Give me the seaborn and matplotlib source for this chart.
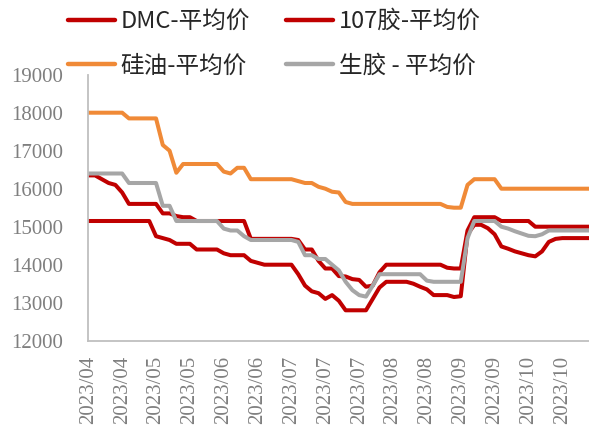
import matplotlib
matplotlib.use("Agg")
import matplotlib.pyplot as plt
import seaborn as sns
import pandas as pd

# ---- data ----
tick_labels = ["2023/04", "2023/04", "2023/05", "2023/05", "2023/06", "2023/06",
               "2023/07", "2023/07", "2023/07", "2023/08", "2023/08", "2023/09",
               "2023/09", "2023/10", "2023/10"]
points_per_tick = 5

dmc = [15150, 15150, 15150, 15150, 15150, 15150, 15150, 15150, 15150, 15150,
       14750, 14700, 14650, 14550, 14550, 14550, 14400, 14400, 14400, 14400,
       14300, 14250, 14250, 14250, 14100, 14050, 14000, 14000, 14000, 14000,
       14000, 13750, 13450, 13300, 13250, 13100, 13200, 13050, 12800, 12800,
       12800, 12800, 13100, 13400, 13550, 13550, 13550, 13550, 13500, 13420,
       13350, 13200, 13200, 13200, 13150, 13170, 14800, 15050, 15050, 14960,
       14800, 14480, 14420, 14350, 14300, 14250, 14220, 14350, 14600, 14680,
       14700, 14700, 14700, 14700, 14700]

glue107 = [16350, 16350, 16250, 16150, 16100, 15900, 15600, 15600, 15600, 15600,
           15600, 15350, 15350, 15280, 15250, 15250, 15150, 15150, 15150, 15150,
           15150, 15150, 15150, 15150, 14680, 14680, 14680, 14680, 14680, 14680,
           14680, 14650, 14400, 14400, 14100, 13900, 13900, 13700, 13690, 13620,
           13600, 13420, 13450, 13800, 14000, 14000, 14000, 14000, 14000, 14000,
           14000, 14000, 14000, 13920, 13900, 13900, 14900, 15250, 15250, 15250,
           15250, 15150, 15150, 15150, 15150, 15150, 15000, 15000, 15000, 15000,
           15000, 15000, 15000, 15000, 15000]

silicone_oil = [18000, 18000, 18000, 18000, 18000, 18000, 17850, 17850, 17850, 17850,
                17850, 17150, 17000, 16420, 16650, 16650, 16650, 16650, 16650, 16650,
                16450, 16400, 16550, 16550, 16250, 16250, 16250, 16250, 16250, 16250,
                16250, 16200, 16150, 16150, 16050, 16000, 15920, 15900, 15650, 15600,
                15600, 15600, 15600, 15600, 15600, 15600, 15600, 15600, 15600, 15600,
                15600, 15600, 15600, 15520, 15500, 15500, 16100, 16250, 16250, 16250,
                16250, 16000, 16000, 16000, 16000, 16000, 16000, 16000, 16000, 16000,
                16000, 16000, 16000, 16000, 16000]

raw_rubber = [16400, 16400, 16400, 16400, 16400, 16400, 16150, 16150, 16150, 16150,
              16150, 15550, 15550, 15150, 15150, 15150, 15150, 15150, 15150, 15150,
              14950, 14900, 14900, 14750, 14650, 14650, 14650, 14650, 14650, 14650,
              14650, 14600, 14250, 14250, 14150, 14150, 14000, 13850, 13550, 13330,
              13200, 13160, 13450, 13750, 13750, 13750, 13750, 13750, 13750, 13750,
              13580, 13550, 13550, 13550, 13550, 13550, 14700, 15150, 15150, 15150,
              15150, 15000, 14950, 14880, 14820, 14760, 14750, 14800, 14900, 14900,
              14900, 14900, 14900, 14900, 14900]

series_names = ["DMC-平均价", "107胶-平均价", "硅油-平均价", "生胶 - 平均价"]
series_colors = ["#C00000", "#C00000", "#F08A37", "#A6A6A6"]
y_ticks = [12000, 13000, 14000, 15000, 16000, 17000, 18000, 19000]

n = len(dmc)
df = pd.DataFrame({
    "idx": list(range(n)) * 4,
    "price": dmc + glue107 + silicone_oil + raw_rubber,
    "series": sum([[s] * n for s in series_names], []),
})

# ---- style ----
sns.set_style("white")
plt.rcParams["font.family"] = ["Liberation Serif", "Noto Sans CJK SC"]

fig = plt.figure(figsize=(5.89, 4.38), dpi=100)
ax = fig.add_axes([88.3 / 589, 1 - 340.7 / 438, 1 - 88.3 / 589, (340.7 - 74.7) / 438])

for name, col in zip(series_names, series_colors):
    sub = df[df["series"] == name]
    sns.lineplot(data=sub, x="idx", y="price", ax=ax, color=col,
                 linewidth=2.9, legend=False, solid_joinstyle="round")

ax.set_xlim(0, (589 - 88.3) / 6.772)
ax.set_ylim(12000, 19000)
ax.set_yticks(y_ticks)
ax.set_yticklabels([str(v) for v in y_ticks])
ax.set_xticks([i * points_per_tick for i in range(len(tick_labels))])
ax.set_xticklabels(tick_labels, rotation=90)
ax.set_xlabel("")
ax.set_ylabel("")

for s in ["top", "right"]:
    ax.spines[s].set_visible(False)
for s in ["left", "bottom"]:
    ax.spines[s].set_color("#BFBFBF")
    ax.spines[s].set_linewidth(1.3)

ax.tick_params(axis="both", direction="out", length=5, width=1.3, color="#BFBFBF",
               labelcolor="#7F7F7F", labelsize=15)
ax.tick_params(axis="y", pad=13)
ax.tick_params(axis="x", pad=6)
ax.grid(False)

lines = ax.get_lines()
prop = {"family": ["Noto Sans CJK SC"], "size": 17}
common = dict(loc="upper left", frameon=False, prop=prop, handlelength=2.0,
              handletextpad=0.25, labelspacing=0.92, borderaxespad=0, borderpad=0)
leg1 = fig.legend([lines[0], lines[2]], [series_names[0], series_names[2]],
                  bbox_to_anchor=(67.7 / 589, 1 - 10 / 438), **common)
leg2 = fig.legend([lines[1], lines[3]], [series_names[1], series_names[3]],
                  bbox_to_anchor=(286 / 589, 1 - 10 / 438), **common)
for leg in (leg1, leg2):
    for h in leg.legend_handles:
        h.set_linewidth(3.2)

fig.savefig("out.png", dpi=100)
